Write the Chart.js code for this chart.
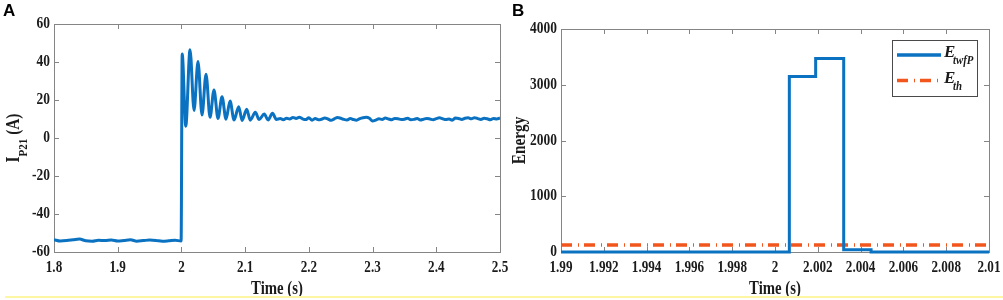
<!DOCTYPE html>
<html>
<head>
<meta charset="utf-8">
<script src="https://cdn.jsdelivr.net/npm/chart.js@4.4.1/dist/chart.umd.min.js"></script>
<style>
html, body { margin: 0; padding: 0; background: #fff; }
#wrap { position: relative; width: 1003px; height: 300px; overflow: hidden; }
#cA { position: absolute; left: 0; top: 0; }
#cB { position: absolute; left: 503px; top: 0; }
#rule { position: absolute; left: 5px; right: 0; top: 296px; height: 2px; background: #fdf7a4; }
</style>
</head>
<body>
<div id="wrap">
  <canvas id="cA" width="520" height="300" style="width:520px;height:300px"></canvas>
  <canvas id="cB" width="500" height="300" style="width:500px;height:300px"></canvas>
  <div id="rule"></div>
</div>
<script>
// panel A : current I_P21 (A) against time (s)
var timeA = [
  1.80, 1.81, 1.82, 1.83, 1.84, 1.85, 1.86, 1.87, 1.88, 1.89, 1.90, 1.91, 1.92, 1.93, 1.94, 1.95, 1.96, 1.97, 1.98, 1.99, 1.9995,
  2.0012, 2.0068, 2.0135, 2.0198, 2.026, 2.0323, 2.0386, 2.0449, 2.0511, 2.0574, 2.0637, 2.070, 2.0763, 2.0826,
  2.0899, 2.0952, 2.1025, 2.108, 2.116, 2.122, 2.130, 2.136, 2.143, 2.149,
  2.155, 2.16, 2.165, 2.17, 2.175, 2.18, 2.185, 2.19, 2.195, 2.20, 2.205, 2.21, 2.215, 2.22, 2.225, 2.23, 2.235, 2.24, 2.245, 2.25,
  2.255, 2.26, 2.265, 2.27, 2.275, 2.28, 2.285, 2.29, 2.295, 2.30, 2.305, 2.31, 2.315, 2.32, 2.325, 2.33, 2.335, 2.34, 2.345, 2.35,
  2.355, 2.36, 2.365, 2.37, 2.375, 2.38, 2.385, 2.39, 2.395, 2.40, 2.405, 2.41, 2.415, 2.42, 2.425, 2.43, 2.435, 2.44, 2.445, 2.45,
  2.455, 2.46, 2.465, 2.47, 2.475, 2.48, 2.485, 2.49, 2.495, 2.50
];
var currentA = [
  -53.5, -54.2, -54.0, -53.6, -53.2, -54.1, -54.3, -53.8, -54.0, -53.7, -54.2, -53.9, -53.6, -54.3, -54.0, -53.7, -53.9, -54.3, -54.1, -53.8, -54.2,
  44.2, 6.2, 46.5, 14.5, 40.2, 12.1, 33.6, 10.9, 25.3, 10.3, 21.7, 9.9, 19.5, 9.5,
  16.5, 9.2, 15.1, 9.4, 13.5, 9.7, 12.6, 9.5, 13.0, 9.8,
  10.2, 9.6, 10.4, 10.0, 10.8, 10.3, 10.9, 10.1, 9.7, 10.6, 9.4, 10.2, 9.6, 9.9, 10.5, 10.0, 9.3, 10.1, 10.8, 10.4,
  9.8, 9.5, 10.3, 9.7, 9.4, 10.2, 10.7, 10.9, 10.4, 8.9, 9.4, 10.1, 9.8, 10.5, 10.0, 9.6, 10.3, 10.1, 9.7, 9.9,
  10.4, 9.6, 9.8, 10.2, 9.5, 9.9, 10.3, 10.0, 9.6, 10.2, 10.6, 10.1, 9.7, 10.0, 9.4, 10.5, 10.3, 9.8, 10.4, 10.6,
  10.1, 10.7, 10.2, 9.8, 10.4, 10.1, 9.6, 10.3, 10.0, 10.5
];
var xTicksA = [1.8, 1.9, 2, 2.1, 2.2, 2.3, 2.4, 2.5];
var yTicksA = [-60, -40, -20, 0, 20, 40, 60];

// panel B : energy E_twfP (step changes) and threshold E_th
var timeB = [1.99, 2.00067, 2.0019, 2.00321, 2.00449, 2.01];
var energyB = [0, 3150, 3470, 40, 2, 2];
var timeTh = [1.99, 2.01];
var thresholdB = [125, 125];
var xTicksB = [1.99, 1.992, 1.994, 1.996, 1.998, 2, 2.002, 2.004, 2.006, 2.008, 2.01];
var yTicksB = [0, 1000, 2000, 3000, 4000];

var BLUE = '#0a72c0';
var ORANGE = '#f2561d';
var SERIF = '"Liberation Serif", "Times New Roman", serif';

function pts(xs, ys) {
  return xs.map(function (x, i) { return { x: x, y: ys[i] }; });
}

function squeezed(ctx, txt, x, y, align, sx) {
  ctx.save();
  ctx.translate(x, y);
  ctx.scale(sx, 1);
  ctx.textAlign = align;
  ctx.fillText(txt, 0, 0);
  ctx.restore();
}

// matlab style box, inward ticks, labels
var axesPlugin = {
  id: 'matlabAxes',
  beforeDatasetsDraw: function (chart, args, opts) {
    var ctx = chart.ctx;
    var a = chart.chartArea;
    var xs = chart.scales.x, ys = chart.scales.y;
    ctx.save();
    ctx.strokeStyle = '#858585';
    ctx.lineWidth = 1;
    ctx.strokeRect(Math.round(a.left) + 0.5, Math.round(a.top) + 0.5, Math.round(a.right - a.left), Math.round(a.bottom - a.top));
    ctx.beginPath();
    opts.xTicks.forEach(function (v) {
      var p = Math.round(xs.getPixelForValue(v)) + 0.5;
      ctx.moveTo(p, a.bottom); ctx.lineTo(p, a.bottom - 5);
      ctx.moveTo(p, a.top); ctx.lineTo(p, a.top + 5);
    });
    opts.yTicks.forEach(function (v) {
      var p = Math.round(ys.getPixelForValue(v)) + 0.5;
      ctx.moveTo(a.left, p); ctx.lineTo(a.left + 5, p);
      ctx.moveTo(a.right, p); ctx.lineTo(a.right - 5, p);
    });
    ctx.stroke();
    ctx.restore();
  },
  afterDatasetsDraw: function (chart, args, opts) {
    var ctx = chart.ctx;
    var a = chart.chartArea;
    var xs = chart.scales.x, ys = chart.scales.y;
    ctx.save();
    ctx.fillStyle = '#1b1b1b';
    ctx.font = 'bold 16px ' + SERIF;
    ctx.textBaseline = 'middle';
    opts.xTicks.forEach(function (v) {
      squeezed(ctx, String(v), xs.getPixelForValue(v), a.bottom + 16, 'center', 0.82);
    });
    opts.yTicks.forEach(function (v) {
      squeezed(ctx, String(v), a.left - 4, ys.getPixelForValue(v), 'right', 0.84);
    });

    ctx.textBaseline = 'alphabetic';
    ctx.font = 'bold 18px ' + SERIF;
    squeezed(ctx, opts.xTitle, (a.left + a.right) / 2, 294, 'center', 0.82);

    // rotated y title with optional subscript
    ctx.save();
    ctx.translate(opts.yTitleX, (a.top + a.bottom) / 2);
    ctx.rotate(-Math.PI / 2);
    ctx.scale(0.85, 1);
    ctx.textAlign = 'left';
    ctx.font = 'bold 18px ' + SERIF;
    var w1 = ctx.measureText(opts.yTitle[0]).width;
    var w3 = ctx.measureText(opts.yTitle[2]).width;
    ctx.font = 'bold 13px ' + SERIF;
    var w2 = ctx.measureText(opts.yTitle[1]).width;
    var x0 = -(w1 + w2 + w3) / 2;
    ctx.font = 'bold 18px ' + SERIF;
    ctx.fillText(opts.yTitle[0], x0, 0);
    ctx.fillText(opts.yTitle[2], x0 + w1 + w2, 0);
    ctx.font = 'bold 13px ' + SERIF;
    ctx.fillText(opts.yTitle[1], x0 + w1, 8);
    ctx.restore();

    // panel letter
    ctx.font = 'bold 17px "Liberation Sans", Arial, sans-serif';
    ctx.textAlign = 'left';
    ctx.fillStyle = '#000';
    ctx.fillText(opts.letter, opts.letterX, 16);

    if (opts.legend) {
      var L = opts.legend;
      ctx.fillStyle = '#fff';
      ctx.fillRect(L.x, L.y, L.w, L.h);
      ctx.strokeStyle = '#4a4a4a';
      ctx.strokeRect(L.x + 0.5, L.y + 0.5, L.w, L.h);
      chart.data.datasets.forEach(function (ds, i) {
        var yy = L.y + 15 + i * 25.5;
        ctx.save();
        ctx.strokeStyle = ds.borderColor;
        ctx.lineWidth = 3.5;
        ctx.setLineDash(ds.borderDash || []);
        ctx.beginPath();
        ctx.moveTo(L.x + 5, yy); ctx.lineTo(L.x + 49, yy);
        ctx.stroke();
        ctx.restore();
        ctx.fillStyle = '#1b1b1b';
        ctx.font = 'italic bold 17px ' + SERIF;
        ctx.fillText('E', L.x + 52, yy + 2);
        ctx.font = 'italic bold 12px ' + SERIF;
        squeezed(ctx, ds.sub, L.x + 61, yy + 9, 'left', 0.9);
      });
    }
    ctx.restore();
  }
};

new Chart(document.getElementById('cA'), {
  type: 'line',
  data: {
    datasets: [{
      label: 'I_P21',
      data: pts(timeA, currentA),
      borderColor: BLUE,
      borderWidth: 3,
      pointRadius: 0,
      cubicInterpolationMode: 'monotone',
      fill: false
    }]
  },
  options: {
    responsive: false,
    animation: false,
    events: [],
    layout: { padding: { left: 54, top: 24, right: 20, bottom: 48 } },
    plugins: {
      legend: { display: false },
      tooltip: { enabled: false },
      matlabAxes: {
        xTicks: xTicksA, yTicks: yTicksA,
        xTitle: 'Time (s)', yTitle: ['I', 'P21', ' (A)'], yTitleX: 19,
        letter: 'A', letterX: 3
      }
    },
    scales: {
      x: { type: 'linear', min: 1.8, max: 2.5, display: false },
      y: { type: 'linear', min: -60, max: 60, display: false }
    }
  },
  plugins: [axesPlugin]
});

new Chart(document.getElementById('cB'), {
  type: 'line',
  data: {
    datasets: [{
      label: 'E_twfP',
      sub: 'twfP',
      data: pts(timeB, energyB),
      borderColor: BLUE,
      borderWidth: 3,
      pointRadius: 0,
      stepped: 'before',
      clip: false,
      fill: false
    }, {
      label: 'E_th',
      sub: 'th',
      data: pts(timeTh, thresholdB),
      borderColor: ORANGE,
      borderWidth: 3.5,
      borderDash: [11, 6, 1, 5],
      pointRadius: 0,
      fill: false
    }]
  },
  options: {
    responsive: false,
    animation: false,
    events: [],
    layout: { padding: { left: 58, top: 29, right: 14, bottom: 48 } },
    plugins: {
      legend: { display: false },
      tooltip: { enabled: false },
      matlabAxes: {
        xTicks: xTicksB, yTicks: yTicksB,
        xTitle: 'Time (s)', yTitle: ['Energy', '', ''], yTitleX: 22,
        letter: 'B', letterX: 9,
        legend: { x: 389, y: 40, w: 85, h: 56 }
      }
    },
    scales: {
      x: { type: 'linear', min: 1.99, max: 2.01, display: false },
      y: { type: 'linear', min: 0, max: 4000, display: false }
    }
  },
  plugins: [axesPlugin]
});
</script>
</body>
</html>
